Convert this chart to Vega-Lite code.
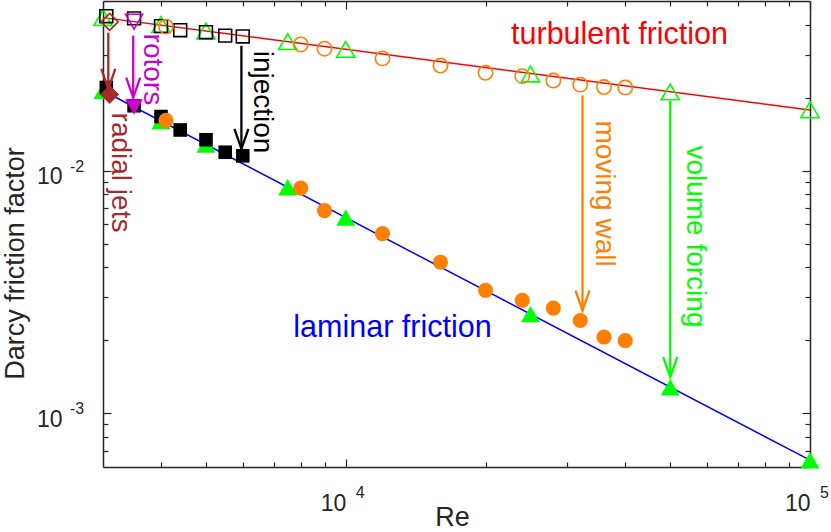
{
  "$schema": "https://vega.github.io/schema/vega-lite/v6.json",
  "width": 707,
  "height": 466,
  "autosize": {"type": "none"},
  "padding": {"left": 103, "top": 1, "right": 21, "bottom": 65},
  "config": {"view": {"stroke": null}, "font": "Liberation Sans"},
  "datasets": {
    "lines": [
      {"group": "turbulent", "Re": 3000, "f": 0.0427},
      {"group": "turbulent", "Re": 100000, "f": 0.01777},
      {"group": "laminar", "Re": 3000, "f": 0.02133},
      {"group": "laminar", "Re": 100000, "f": 0.00064}
    ],
    "points": [
      {"group": "volume forcing", "state": "turbulent", "Re": 3000, "f": 0.0427},
      {"group": "volume forcing", "state": "turbulent", "Re": 4000, "f": 0.0400},
      {"group": "volume forcing", "state": "turbulent", "Re": 5000, "f": 0.0376},
      {"group": "volume forcing", "state": "turbulent", "Re": 7500, "f": 0.0340},
      {"group": "volume forcing", "state": "turbulent", "Re": 10000, "f": 0.0316},
      {"group": "volume forcing", "state": "turbulent", "Re": 25000, "f": 0.0250},
      {"group": "volume forcing", "state": "turbulent", "Re": 50000, "f": 0.0211},
      {"group": "volume forcing", "state": "turbulent", "Re": 100000, "f": 0.0178},
      {"group": "injection", "state": "turbulent", "Re": 3050, "f": 0.0433},
      {"group": "injection", "state": "turbulent", "Re": 3500, "f": 0.0424},
      {"group": "injection", "state": "turbulent", "Re": 4000, "f": 0.0394},
      {"group": "injection", "state": "turbulent", "Re": 4400, "f": 0.0379},
      {"group": "injection", "state": "turbulent", "Re": 5000, "f": 0.0372},
      {"group": "injection", "state": "turbulent", "Re": 5500, "f": 0.0360},
      {"group": "injection", "state": "turbulent", "Re": 6000, "f": 0.0357},
      {"group": "moving wall", "state": "turbulent", "Re": 4100, "f": 0.0392},
      {"group": "moving wall", "state": "turbulent", "Re": 8000, "f": 0.0331},
      {"group": "moving wall", "state": "turbulent", "Re": 9000, "f": 0.0318},
      {"group": "moving wall", "state": "turbulent", "Re": 12000, "f": 0.0290},
      {"group": "moving wall", "state": "turbulent", "Re": 16000, "f": 0.0271},
      {"group": "moving wall", "state": "turbulent", "Re": 20000, "f": 0.0253},
      {"group": "moving wall", "state": "turbulent", "Re": 24000, "f": 0.0245},
      {"group": "moving wall", "state": "turbulent", "Re": 28000, "f": 0.0235},
      {"group": "moving wall", "state": "turbulent", "Re": 32000, "f": 0.0226},
      {"group": "moving wall", "state": "turbulent", "Re": 36000, "f": 0.0221},
      {"group": "moving wall", "state": "turbulent", "Re": 40000, "f": 0.0220},
      {"group": "rotors", "state": "turbulent", "Re": 3500, "f": 0.0411},
      {"group": "radial jets", "state": "turbulent", "Re": 3100, "f": 0.0410},
      {"group": "volume forcing", "state": "laminar", "Re": 3000, "f": 0.0213},
      {"group": "volume forcing", "state": "laminar", "Re": 4000, "f": 0.0160},
      {"group": "volume forcing", "state": "laminar", "Re": 5000, "f": 0.0128},
      {"group": "volume forcing", "state": "laminar", "Re": 7500, "f": 0.00853},
      {"group": "volume forcing", "state": "laminar", "Re": 10000, "f": 0.0064},
      {"group": "volume forcing", "state": "laminar", "Re": 25000, "f": 0.00256},
      {"group": "volume forcing", "state": "laminar", "Re": 50000, "f": 0.00128},
      {"group": "volume forcing", "state": "laminar", "Re": 100000, "f": 0.00064},
      {"group": "injection", "state": "laminar", "Re": 3050, "f": 0.0220},
      {"group": "injection", "state": "laminar", "Re": 3500, "f": 0.0185},
      {"group": "injection", "state": "laminar", "Re": 4000, "f": 0.0167},
      {"group": "injection", "state": "laminar", "Re": 4400, "f": 0.0147},
      {"group": "injection", "state": "laminar", "Re": 5000, "f": 0.0134},
      {"group": "injection", "state": "laminar", "Re": 5500, "f": 0.0119},
      {"group": "injection", "state": "laminar", "Re": 6000, "f": 0.0115},
      {"group": "moving wall", "state": "laminar", "Re": 4100, "f": 0.0161},
      {"group": "moving wall", "state": "laminar", "Re": 8000, "f": 0.00847},
      {"group": "moving wall", "state": "laminar", "Re": 9000, "f": 0.00684},
      {"group": "moving wall", "state": "laminar", "Re": 12000, "f": 0.0055},
      {"group": "moving wall", "state": "laminar", "Re": 16000, "f": 0.00419},
      {"group": "moving wall", "state": "laminar", "Re": 20000, "f": 0.00321},
      {"group": "moving wall", "state": "laminar", "Re": 24000, "f": 0.00292},
      {"group": "moving wall", "state": "laminar", "Re": 28000, "f": 0.00271},
      {"group": "moving wall", "state": "laminar", "Re": 32000, "f": 0.00241},
      {"group": "moving wall", "state": "laminar", "Re": 36000, "f": 0.00206},
      {"group": "moving wall", "state": "laminar", "Re": 40000, "f": 0.00199},
      {"group": "rotors", "state": "laminar", "Re": 3500, "f": 0.0183},
      {"group": "radial jets", "state": "laminar", "Re": 3100, "f": 0.0206}
    ],
    "arrows": [
      {"group": "radial jets", "part": "start", "Re": 3080, "f": 0.0370},
      {"group": "radial jets", "part": "tip", "Re": 3080, "f": 0.02171},
      {"group": "rotors", "part": "start", "Re": 3485, "f": 0.0360},
      {"group": "rotors", "part": "tip", "Re": 3485, "f": 0.0200},
      {"group": "injection", "part": "start", "Re": 5960, "f": 0.0327},
      {"group": "injection", "part": "tip", "Re": 5960, "f": 0.01229},
      {"group": "moving wall", "part": "start", "Re": 32360, "f": 0.0204},
      {"group": "moving wall", "part": "tip", "Re": 32360, "f": 0.00265},
      {"group": "volume forcing", "part": "start", "Re": 50000, "f": 0.0194},
      {"group": "volume forcing", "part": "tip", "Re": 50000, "f": 0.001408}
    ],
    "labels": [
      {"group": "turbulent", "rot": false, "text": "turbulent friction", "Re": 22700, "f": 0.0334},
      {"group": "laminar", "rot": false, "text": "laminar friction", "Re": 7710, "f": 0.00206},
      {"group": "radial jets", "rot": true, "text": "radial jets", "Re": 3135, "f": 0.01734},
      {"group": "rotors", "rot": true, "text": "rotors", "Re": 3675, "f": 0.0367},
      {"group": "injection", "rot": true, "text": "injection", "Re": 6345, "f": 0.0312},
      {"group": "moving wall", "rot": true, "text": "moving wall", "Re": 34630, "f": 0.0161},
      {"group": "volume forcing", "rot": true, "text": "volume forcing", "Re": 54390, "f": 0.0127}
    ],
    "exps": [
      {"ax": "y", "e": "-2", "Re": 3000, "f": 0.01},
      {"ax": "y", "e": "-3", "Re": 3000, "f": 0.001},
      {"ax": "x", "e": "4", "Re": 10000, "f": 0.0006},
      {"ax": "x", "e": "5", "Re": 100000, "f": 0.0006}
    ]
  },
  "layer": [
    {
      "encoding": {
        "x": {
          "field": "Re", "type": "quantitative",
          "scale": {"type": "log", "domain": [3000, 100000], "nice": false},
          "axis": {
            "orient": "bottom", "grid": false,
            "values": [4000, 5000, 6000, 7000, 8000, 9000, 10000, 20000, 30000, 40000, 50000, 60000, 70000, 80000, 90000, 100000],
            "labelExpr": "datum.value == 10000 || datum.value == 100000 ? '10' : ''",
            "tickSize": {"condition": {"test": "datum.value == 10000 || datum.value == 100000", "value": -8}, "value": -5},
            "tickColor": "#262626", "tickWidth": 1.2,
            "domainColor": "#262626", "domainWidth": 1.5,
            "labelColor": "#262626", "labelFontSize": 23, "labelAlign": "right", "labelBaseline": "middle",
            "labelPadding": 44, "labelFlush": false, "labelOverlap": false, "labelBound": false,
            "title": "Re", "titleFontSize": 27, "titleFontWeight": "normal", "titleColor": "#262626",
            "titleX": 349, "titleY": 50, "titleAlign": "center", "titleBaseline": "middle"
          }
        },
        "y": {
          "field": "f", "type": "quantitative",
          "scale": {"type": "log", "domain": [0.0006, 0.05], "nice": false},
          "axis": {
            "orient": "left", "grid": false,
            "values": [0.0007, 0.0008, 0.0009, 0.001, 0.002, 0.003, 0.004, 0.005, 0.006, 0.007, 0.008, 0.009, 0.01, 0.02, 0.03, 0.04],
            "labelExpr": "datum.value == 0.01 || datum.value == 0.001 ? '10' : ''",
            "tickSize": {"condition": {"test": "datum.value == 0.01 || datum.value == 0.001", "value": -8}, "value": -5},
            "tickColor": "#262626", "tickWidth": 1.2,
            "domainColor": "#262626", "domainWidth": 1.5,
            "labelColor": "#262626", "labelFontSize": 23, "labelAlign": "right", "labelBaseline": "middle",
            "labelPadding": 49, "labelOffset": 6, "labelFlush": false, "labelOverlap": false, "labelBound": false,
            "title": "Darcy friction factor", "titleFontSize": 27, "titleFontWeight": "normal", "titleColor": "#262626",
            "titleX": -88, "titleY": 262, "titleAngle": 270, "titleAlign": "center", "titleBaseline": "middle"
          }
        },
        "color": {
          "field": "group", "type": "nominal", "legend": null,
          "scale": {
            "domain": ["turbulent", "laminar", "volume forcing", "moving wall", "injection", "rotors", "radial jets"],
            "range": ["#FF0000", "#0000FF", "#00FF00", "#FF8000", "#000000", "#CC00CC", "#A52A2A"]
          }
        }
      },
      "layer": [
        {"data": {"name": "lines"}, "mark": {"type": "line", "strokeWidth": 1.5}},
        {"data": {"name": "points"}, "transform": [{"filter": "datum.state == 'turbulent' && datum.group == 'volume forcing'"}],
         "mark": {"type": "point", "shape": "triangle-up", "size": 330, "filled": false, "strokeWidth": 1.6, "opacity": 1}},
        {"data": {"name": "points"}, "transform": [{"filter": "datum.state == 'turbulent' && datum.group == 'injection'"}],
         "mark": {"type": "point", "shape": "square", "size": 165, "filled": false, "strokeWidth": 1.6, "opacity": 1}},
        {"data": {"name": "points"}, "transform": [{"filter": "datum.state == 'turbulent' && datum.group == 'moving wall'"}],
         "mark": {"type": "point", "shape": "circle", "size": 205, "filled": false, "strokeWidth": 1.6, "opacity": 1}},
        {"data": {"name": "points"}, "transform": [{"filter": "datum.state == 'turbulent' && datum.group == 'rotors'"}],
         "mark": {"type": "point", "shape": "triangle-down", "size": 290, "filled": false, "strokeWidth": 1.6, "opacity": 1}},
        {"data": {"name": "points"}, "transform": [{"filter": "datum.state == 'turbulent' && datum.group == 'radial jets'"}],
         "mark": {"type": "point", "shape": "diamond", "size": 290, "filled": false, "strokeWidth": 1.6, "opacity": 1}},
        {"data": {"name": "points"}, "transform": [{"filter": "datum.state == 'laminar' && datum.group == 'volume forcing'"}],
         "mark": {"type": "point", "shape": "triangle-up", "size": 360, "filled": true, "opacity": 1}},
        {"data": {"name": "points"}, "transform": [{"filter": "datum.state == 'laminar' && datum.group == 'injection'"}],
         "mark": {"type": "point", "shape": "square", "size": 185, "filled": true, "opacity": 1}},
        {"data": {"name": "points"}, "transform": [{"filter": "datum.state == 'laminar' && datum.group == 'moving wall'"}],
         "mark": {"type": "point", "shape": "circle", "size": 230, "filled": true, "opacity": 1}},
        {"data": {"name": "points"}, "transform": [{"filter": "datum.state == 'laminar' && datum.group == 'rotors'"}],
         "mark": {"type": "point", "shape": "triangle-down", "size": 320, "filled": true, "opacity": 1}},
        {"data": {"name": "points"}, "transform": [{"filter": "datum.state == 'laminar' && datum.group == 'radial jets'"}],
         "mark": {"type": "point", "shape": "diamond", "size": 360, "filled": true, "opacity": 1}},
        {"data": {"name": "arrows"}, "mark": {"type": "line", "strokeWidth": 2.3}},
        {"data": {"name": "arrows"}, "transform": [{"filter": "datum.part == 'tip'"}],
         "mark": {"type": "point", "shape": "M-0.35,-1L0,0L0.35,-1", "size": 1600, "filled": false, "strokeWidth": 2.3, "opacity": 1, "strokeJoin": "miter", "strokeCap": "butt"}},
        {"data": {"name": "labels"}, "transform": [{"filter": "!datum.rot"}],
         "mark": {"type": "text", "align": "left", "baseline": "alphabetic", "fontSize": 30.5},
         "encoding": {"text": {"field": "text"}}},
        {"data": {"name": "labels"}, "transform": [{"filter": "datum.rot"}],
         "mark": {"type": "text", "align": "left", "baseline": "alphabetic", "fontSize": 28, "angle": 90},
         "encoding": {"text": {"field": "text"}}},
        {"data": {"name": "exps"}, "transform": [{"filter": "datum.ax == 'y'"}],
         "mark": {"type": "text", "align": "left", "baseline": "middle", "fontSize": 16, "dx": -33, "dy": -4},
         "encoding": {"text": {"field": "e"}, "color": {"value": "#262626"}}},
        {"data": {"name": "exps"}, "transform": [{"filter": "datum.ax == 'x'"}],
         "mark": {"type": "text", "align": "left", "baseline": "middle", "fontSize": 16, "dx": 10, "dy": 26},
         "encoding": {"text": {"field": "e"}, "color": {"value": "#262626"}}}
      ]
    },
    {
      "data": {"name": "lines"},
      "mark": {"type": "point", "opacity": 0},
      "encoding": {
        "x": {
          "field": "Re", "type": "quantitative",
          "scale": {"type": "log", "domain": [3000, 100000], "nice": false},
          "axis": {
            "orient": "top", "grid": false, "labels": false, "title": null,
            "values": [4000, 5000, 6000, 7000, 8000, 9000, 10000, 20000, 30000, 40000, 50000, 60000, 70000, 80000, 90000, 100000],
            "tickSize": {"condition": {"test": "datum.value == 10000 || datum.value == 100000", "value": -8}, "value": -5},
            "tickColor": "#262626", "tickWidth": 1.2,
            "domainColor": "#262626", "domainWidth": 1.5
          }
        },
        "y": {
          "field": "f", "type": "quantitative",
          "scale": {"type": "log", "domain": [0.0006, 0.05], "nice": false},
          "axis": {
            "orient": "right", "grid": false, "labels": false, "title": null,
            "values": [0.0007, 0.0008, 0.0009, 0.001, 0.002, 0.003, 0.004, 0.005, 0.006, 0.007, 0.008, 0.009, 0.01, 0.02, 0.03, 0.04],
            "tickSize": {"condition": {"test": "datum.value == 0.01 || datum.value == 0.001", "value": -8}, "value": -5},
            "tickColor": "#262626", "tickWidth": 1.2,
            "domainColor": "#262626", "domainWidth": 1.5
          }
        }
      }
    }
  ],
  "resolve": {"axis": {"x": "independent", "y": "independent"}}
}
